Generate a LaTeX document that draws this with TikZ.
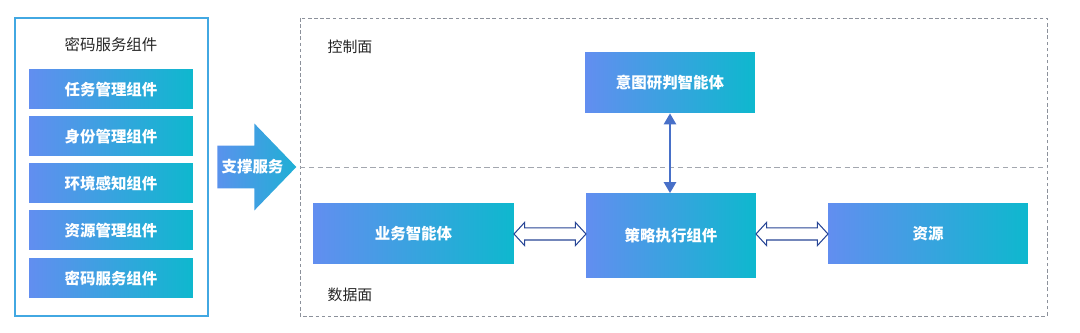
\documentclass[tikz,border=0pt]{standalone}
\usepackage{fontspec}
\newfontfamily\cjk{Noto Sans CJK SC}
\usetikzlibrary{arrows.meta,positioning,shapes.arrows,calc}
\definecolor{cblue}{RGB}{98,142,240}
\definecolor{ccyan}{RGB}{14,184,206}
\definecolor{frame}{RGB}{66,168,226}
\definecolor{navy}{RGB}{40,70,150}
\definecolor{link}{RGB}{72,112,200}
\definecolor{grid}{RGB}{140,145,155}
\tikzset{
  comp/.style={left color=cblue,right color=ccyan,text=white,inner sep=0pt,
    minimum width=#1,minimum height=0.78cm,font=\cjk\bfseries\fontsize{8.8}{10}\selectfont},
  comp/.default=3.28cm,
  agent/.style={comp=3.4cm,minimum height=1.2cm},
  tag/.style={font=\cjk\fontsize{8.5}{10}\selectfont,text=black!85},
  hollow/.style={double arrow,draw=navy,fill=white,line width=0.6pt,inner xsep=0pt,
    inner ysep=0.11cm,minimum height=#1,double arrow head extend=0.11cm,
    double arrow tip angle=95},
  vlink/.style={draw=link,line width=1.4pt,
    {Triangle[length=2.2mm,width=2.4mm]}-{Triangle[length=2.2mm,width=2.4mm]}},
  support/.style={single arrow,left color=cblue!90!ccyan,right color=ccyan!80!cblue,
    inner xsep=0pt,inner ysep=0.42cm,minimum height=1.58cm,minimum width=1.72cm,
    single arrow head extend=0.44cm,single arrow tip angle=92},
  suptext/.style={text=white,font=\cjk\bfseries\fontsize{8.8}{10}\selectfont,inner sep=0pt},
}
\begin{document}
\begin{tikzpicture}[x=0.02cm,y=-0.02cm]
  \useasboundingbox (0,0) rectangle (1080,333);
  % left column
  \draw[frame,line width=1.2pt] (15,18) rectangle (208,316);
  \node[tag,font=\cjk\fontsize{8.8}{10}\selectfont] (title) at (111,45) {密码服务组件};
  \node[comp] (task) at (111,89.5) {任务管理组件};
  \node[comp] (ident) at (111,136.5) {身份管理组件};
  \node[comp] (env) at (111,183.5) {环境感知组件};
  \node[comp] (resm) at (111,230.5) {资源管理组件};
  \node[comp] (crypt) at (111,278.5) {密码服务组件};
  \node[support,anchor=tail] (sup) at (217,167) {};
  \node[suptext] (suplabel) at (252.5,167) {支撑服务};
  % planes
  \draw[grid,dash pattern=on 2pt off 1.5pt,line width=0.5pt] (300,18) rectangle (1047,316);
  \draw[grid!80,dash pattern=on 3pt off 2pt,line width=0.5pt] (300,167) -- (1047,167);
  \node[tag] (ctrl) at (350,47) {控制面};
  \node[tag] (data) at (350,295) {数据面};
  \node[agent] (intent) at (670,83) {意图研判智能体};
  \node[agent,minimum height=1.68cm] (exec) at (671,235.5) {策略执行组件};
  \node[comp=4.02cm,minimum height=1.2cm] (biz) at (413.5,234) {业务智能体};
  \node[comp=4.0cm,minimum height=1.2cm] (res) at (928,234) {资源};
  \draw[vlink] (intent.south) -- (intent.south |- exec.north);
  \node[hollow=1.44cm] (bizlink) at ($(biz.east)!0.5!(biz.east -| exec.west)$) {};
  \node[hollow=1.44cm] (reslink) at ($(exec.east |- res.west)!0.5!(res.west)$) {};
\end{tikzpicture}
\end{document}
